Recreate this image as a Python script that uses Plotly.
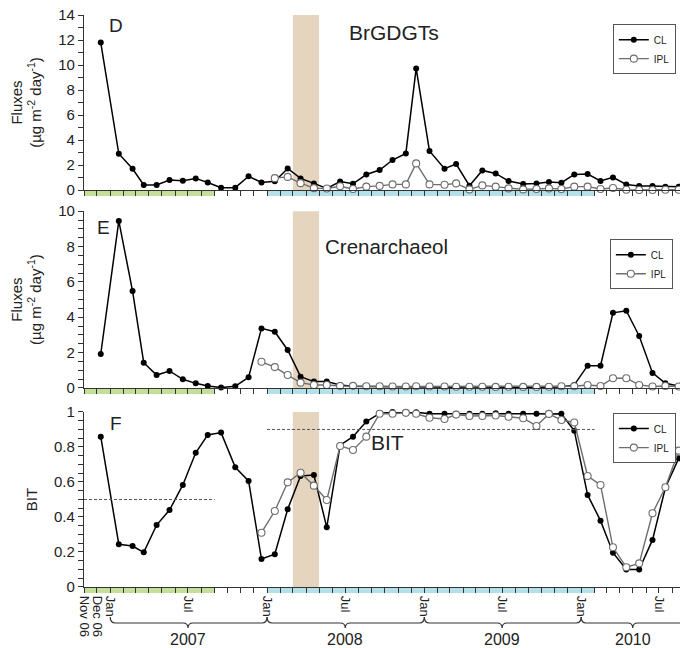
import plotly.graph_objects as go
import pandas as pd

# ---------------- data ----------------
sample_dates = [
    "2006-12-10", "2007-01-21", "2007-02-22", "2007-03-20", "2007-04-19", "2007-05-19",
    "2007-06-19", "2007-07-19", "2007-08-16", "2007-09-16", "2007-10-19", "2007-11-19",
    "2007-12-19", "2008-01-19", "2008-02-18", "2008-03-19", "2008-04-19", "2008-05-19",
    "2008-06-19", "2008-07-19", "2008-08-19", "2008-09-19", "2008-10-19", "2008-11-19",
    "2008-12-13", "2009-01-13", "2009-02-17", "2009-03-16", "2009-04-16", "2009-05-16",
    "2009-06-16", "2009-07-16", "2009-08-19", "2009-09-19", "2009-10-18", "2009-11-16",
    "2009-12-16", "2010-01-16", "2010-02-15", "2010-03-16", "2010-04-16", "2010-05-16",
    "2010-06-16", "2010-07-16", "2010-08-16",
]

brgdgt_cl = [11.8, 2.9, 1.7, 0.4, 0.4, 0.8, 0.75, 0.93, 0.6, 0.19, 0.19, 1.1, 0.6, 0.7,
             1.73, 0.93, 0.53, 0.13, 0.68, 0.5, 1.24, 1.6, 2.4, 2.93, 9.73, 3.13, 1.71,
             2.08, 0.35, 1.57, 1.33, 0.72, 0.48, 0.53, 0.64, 0.59, 1.25, 1.28, 0.72, 1.01,
             0.45, 0.32, 0.32, 0.27, 0.27]
brgdgt_ipl = [None] * 13 + [0.95, 1.05, 0.55, 0.15, 0.12, 0.3, 0.08, 0.27, 0.33, 0.45,
                            0.45, 2.13, 0.45, 0.42, 0.53, 0.05, 0.37, 0.27, 0.13, 0.05,
                            0.08, 0.13, 0.08, 0.27, 0.27, 0.08, 0.16, 0.02, 0.0, 0.0,
                            0.02, 0.02]

cren_cl = [1.92, 9.45, 5.48, 1.43, 0.73, 0.96, 0.49, 0.26, 0.11, 0.02, 0.1, 0.6, 3.37,
           3.18, 2.15, 0.64, 0.36, 0.36, 0.17,
           0.1, 0.08, 0.07, 0.06, 0.05, 0.08, 0.06, 0.05, 0.04, 0.05, 0.04, 0.04, 0.05,
           0.04, 0.04, 0.05, 0.05,
           0.17, 1.26, 1.26, 4.25, 4.37, 2.94, 0.85, 0.26, 0.11]
cren_ipl = [None] * 12 + [1.48, 1.18, 0.73, 0.3, 0.17, 0.17, 0.11,
                          0.12, 0.1, 0.1, 0.08, 0.08, 0.1, 0.08, 0.08, 0.07, 0.07, 0.07,
                          0.06, 0.07, 0.06, 0.06, 0.07, 0.1,
                          0.1, 0.17, 0.11, 0.55, 0.55, 0.17, 0.08, 0.11, 0.08]

bit_cl = [0.859, 0.244, 0.234, 0.198, 0.354, 0.44, 0.583, 0.767, 0.869, 0.882, 0.684,
          0.606, 0.16, 0.187, 0.444, 0.634, 0.64, 0.341, 0.81, 0.859, 0.945, 0.992, 1.0,
          0.999, 0.999, 0.99, 0.99, 0.99, 0.99, 0.99, 0.993, 0.99, 0.99, 0.99, 0.988,
          0.99, 0.893, 0.526, 0.379, 0.196, 0.1, 0.1, 0.269, 0.567, 0.735]
bit_ipl = [None] * 12 + [0.31, 0.434, 0.598, 0.653, 0.579, 0.497, 0.806, 0.783, 0.859,
                         0.99, 0.99, 0.995, 0.99, 0.967, 0.96, 0.985, 0.977, 0.977, 0.98,
                         0.973, 0.964, 0.92, 0.989, 0.954, 0.94, 0.634, 0.583, 0.227,
                         0.113, 0.135, 0.421, 0.57, 0.779]

# mean BIT reference lines (period start, end, value)
bit_mean_periods = [("2006-11-01", "2007-09-01", 0.5), ("2008-01-01", "2010-02-01", 0.9)]
green_period = ("2006-11-01", "2007-09-01")
blue_period = ("2008-01-01", "2010-02-01")
tan_period = ("2008-03-01", "2008-05-01")

label_ticks = ["2006-11-01", "2006-12-01", "2007-01-01", "2007-07-01", "2008-01-01",
               "2008-07-01", "2009-01-01", "2009-07-01", "2010-01-01", "2010-07-01"]
label_text = ["Nov 06", "Dec 06", "Jan", "Jul", "Jan", "Jul", "Jan", "Jul", "Jan", "Jul"]
year_labels = ["2007", "2008", "2009", "2010"]

X0, X1 = pd.Timestamp("2006-11-01"), pd.Timestamp("2010-08-19")

# ---------------- figure ----------------
FONT = "Liberation Sans, Arial, sans-serif"
TXT = "#222222"
AX = "#333333"
GRAY = "#6e6e6e"

fig = go.Figure()

panels = [
    (brgdgt_cl, brgdgt_ipl, "x", "y", "legend"),
    (cren_cl, cren_ipl, "x2", "y2", "legend2"),
    (bit_cl, bit_ipl, "x3", "y3", "legend3"),
]
for cl, ipl, xa, ya, lg in panels:
    fig.add_trace(go.Scatter(
        x=sample_dates, y=cl, mode="lines+markers", name="CL", xaxis=xa, yaxis=ya,
        legend=lg, cliponaxis=False, connectgaps=False,
        line=dict(color="black", width=1.5),
        marker=dict(symbol="circle", size=6, color="black")))
    fig.add_trace(go.Scatter(
        x=sample_dates, y=ipl, mode="lines+markers", name="IPL", xaxis=xa, yaxis=ya,
        legend=lg, cliponaxis=False, connectgaps=False,
        line=dict(color=GRAY, width=1.4),
        marker=dict(symbol="circle", size=7, color="white",
                    line=dict(color=GRAY, width=1.1))))

for s, e, v in bit_mean_periods:
    fig.add_trace(go.Scatter(x=[s, e], y=[v, v], mode="lines", xaxis="x3", yaxis="y3",
                             showlegend=False, hoverinfo="skip",
                             line=dict(color="#555555", width=1, dash="3px,2px")))

# shapes: seasonal bands, under-axis period bars
shapes = []
for xa, ya in [("x", "y"), ("x2", "y2"), ("x3", "y3")]:
    shapes.append(dict(type="rect", xref=xa, yref=f"{ya} domain", x0=tan_period[0],
                       x1=tan_period[1], y0=0, y1=1, fillcolor="#e6d5be",
                       line=dict(width=0), layer="below"))
    shapes.append(dict(type="rect", xref=xa, yref=f"{ya} domain", x0=green_period[0],
                       x1=green_period[1], y0=-0.034, y1=0, fillcolor="#c4df99",
                       line=dict(width=0), layer="below"))
    shapes.append(dict(type="rect", xref=xa, yref=f"{ya} domain", x0=blue_period[0],
                       x1=blue_period[1], y0=-0.034, y1=0, fillcolor="#b4e0ea",
                       line=dict(width=0), layer="below"))


def pfrac(d):
    return (pd.Timestamp(d) - X0) / (X1 - X0)


PLOT_TOP, PLOT_BOT, H = 15, 587, 648


def py(p):
    return (PLOT_BOT - p) / (PLOT_BOT - PLOT_TOP)


annotations = []
yl, yt, yn = py(623), py(617), py(628)
dx = 5 / 596
for yr in year_labels:
    y = int(yr)
    xa = pfrac(f"{y}-01-01")
    xb = pfrac(f"{y + 1}-01-01")
    xm = pfrac(f"{y}-07-01") if y < 2010 else pfrac(f"{y}-05-01")
    if y == 2010:
        xb = pfrac("2010-09-01")
    path = (f"M {xa},{yt} Q {xa},{yl} {xa + dx},{yl} L {xm - dx},{yl} "
            f"Q {xm},{yl} {xm},{yn} Q {xm},{yl} {xm + dx},{yl} L {xb - dx},{yl} "
            f"Q {xb},{yl} {xb},{yt}")
    shapes.append(dict(type="path", xref="paper", yref="paper", path=path,
                       line=dict(color=AX, width=1.2)))
    annotations.append(dict(text=yr, x=xm, y=py(639), xref="paper", yref="paper",
                            showarrow=False, font=dict(size=16, color=TXT, family=FONT),
                            xanchor="center", yanchor="middle"))

for txt, xp, ypix, size in [("D", 116, 25, 19), ("BrGDGTs", 394, 33, 21),
                            ("E", 103, 227, 19), ("Crenarchaeol", 386, 246, 20.5),
                            ("F", 116, 423, 19), ("BIT", 387, 442, 21)]:
    annotations.append(dict(text=txt, x=(xp - 84) / 596, y=py(ypix), xref="paper",
                            yref="paper", showarrow=False, xanchor="center",
                            yanchor="middle", font=dict(size=size, color=TXT, family=FONT)))

xcommon = dict(type="date", range=[X0, X1], tickmode="array", tickvals=label_ticks,
               ticks="outside", ticklen=5, tickwidth=1, tickcolor=AX, showline=True,
               linecolor=AX, linewidth=1.2, showgrid=False, zeroline=False,
               minor=dict(dtick="M1", tick0="2006-11-01", ticks="outside", ticklen=5,
                          tickwidth=1, tickcolor=AX, showgrid=False))

ycommon = dict(ticks="outside", ticklen=5, tickwidth=1, tickcolor=AX, showline=True,
               linecolor=AX, linewidth=1.2, showgrid=False, zeroline=False,
               tickfont=dict(size=15, color=TXT), automargin=False,
               title_font=dict(size=15, color=TXT), title_standoff=12)

flux_title = "Fluxes<br>(µg m<sup>-2</sup> day<sup>-1</sup>)"

legend_common = dict(xanchor="right", yanchor="top", bordercolor="#555555", borderwidth=1,
                     bgcolor="white", font=dict(size=10, color=TXT, family=FONT),
                     itemwidth=30, tracegroupgap=0, traceorder="normal")

fig.update_layout(
    width=680, height=648, margin=dict(l=84, r=0, t=15, b=61),
    paper_bgcolor="white", plot_bgcolor="white",
    font=dict(family=FONT, color=TXT),
    xaxis=dict(**xcommon, domain=[0, 1], anchor="y", showticklabels=False),
    xaxis2=dict(**xcommon, domain=[0, 1], anchor="y2", showticklabels=False),
    xaxis3=dict(**xcommon, domain=[0, 1], anchor="y3", ticktext=label_text, tickangle=90,
                tickfont=dict(size=13, color=TXT)),
    yaxis=dict(**ycommon, domain=[0.694, 1.0], anchor="x", range=[0, 14], dtick=2,
               minor=dict(dtick=1, ticks="outside", ticklen=5, tickcolor=AX),
               title_text=flux_title),
    yaxis2=dict(**ycommon, domain=[0.348, 0.657], anchor="x2", range=[0, 10], dtick=2,
                minor=dict(dtick=0.5, ticks="outside", ticklen=5, tickcolor=AX),
                title_text=flux_title),
    yaxis3=dict(**ycommon, domain=[0, 0.306], anchor="x3", range=[0, 1], dtick=0.2,
                minor=dict(dtick=0.05, ticks="outside", ticklen=5, tickcolor=AX),
                title_text="BIT"),
    legend=dict(**legend_common, x=0.993, y=0.984),
    legend2=dict(**legend_common, x=0.988, y=0.608),
    legend3=dict(**legend_common, x=0.993, y=0.304),
    shapes=shapes, annotations=annotations,
)

fig.write_html("out.html", config={"displayModeBar": False},
               post_script="document.body.style.margin='0';document.body.style.padding='0';")
